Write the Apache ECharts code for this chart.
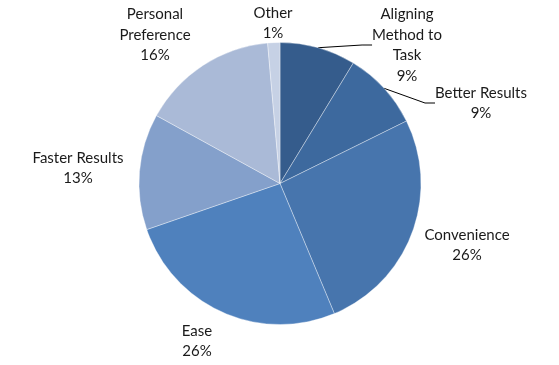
<!DOCTYPE html>
<html><head><meta charset="utf-8">
<script src="https://cdn.jsdelivr.net/npm/echarts@6/dist/echarts.min.js"></script>
<style>html,body{margin:0;padding:0;background:#fff;}#c{width:559px;height:365px;}</style>
</head><body><div id="c"></div>
<script>
const categories = ["Aligning\nMethod to\nTask", "Better Results", "Convenience", "Ease", "Faster Results", "Personal\nPreference", "Other"];
const values = [8.7, 9.0, 26.0, 26.0, 13.3, 15.6, 1.4];
const colors = ["#355C8C", "#3D699E", "#4775AD", "#4F81BD", "#84A0CB", "#AABAD7", "#C6D1E5"];
const labelPos = [[407,45],[481,103],[467,245],[197,341],[78,168],[155,35],[273,23]];
const showLine = [true, true, false, false, false, false, false];

const chart = echarts.init(document.getElementById('c'), null, {renderer:'canvas'});
chart.setOption({
  animation:false,
  series:[{
    type:'pie',
    center:[280,183.5],
    radius:141,
    startAngle:90,
    clockwise:true,
    percentPrecision:0,
    data: categories.map((n,i)=>({
      name:n, value:values[i],
      itemStyle:{color:colors[i]},
      labelLine:{show:showLine[i]}
    })),
    itemStyle:{borderColor:'rgba(255,255,255,0.45)', borderWidth:0.8},
    label:{
      show:true, position:'outside', formatter:'{b}\n{d}%',
      fontFamily:'Lato', fontSize:15, color:'#1a1a1a', lineHeight:20.5, align:'center'
    },
    labelLine:{lineStyle:{color:'#000', width:1}, length:10, length2:10},
    labelLayout:function(p){
      const q = labelPos[p.dataIndex];
      return {x:q[0], y:q[1], align:'center', verticalAlign:'middle'};
    },
    emphasis:{disabled:true}
  }]
});
</script></body></html>
